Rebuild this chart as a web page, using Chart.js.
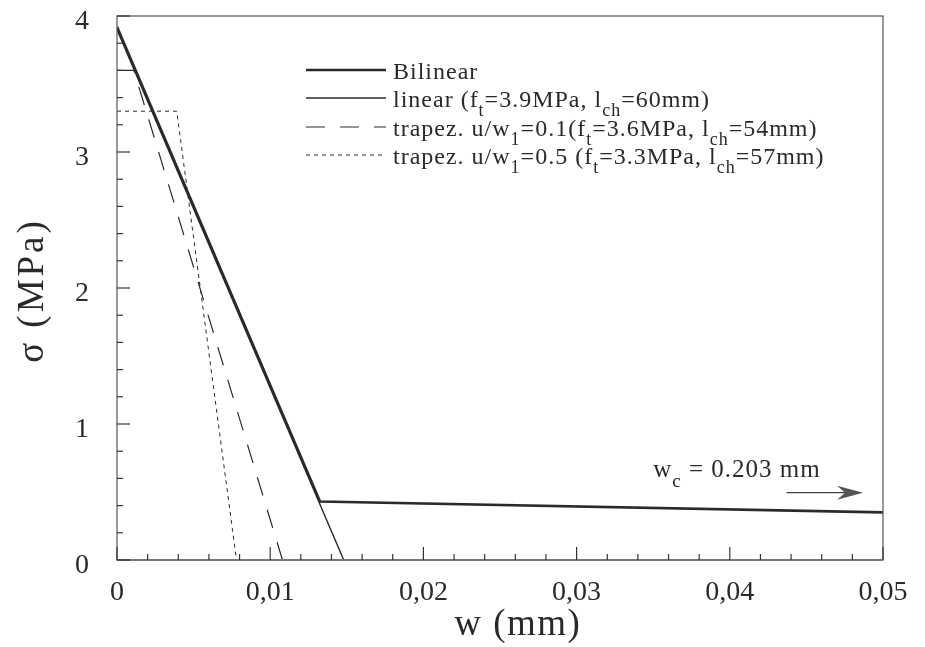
<!DOCTYPE html>
<html>
<head>
<meta charset="utf-8">
<script src="https://cdn.jsdelivr.net/npm/chart.js@4.4.1/dist/chart.umd.min.js"></script>
<style>
    html, body { margin: 0; padding: 0; background: #fff; }
    .wrap { width: 925px; height: 647px; }
</style>
</head>
<body>
<div class="wrap"><canvas class="js-chart"></canvas></div>
<script>
const SERIF = "'Liberation Serif', 'Times New Roman', serif";
const INK = '#2a2a2a';

// crack opening w (mm) / stress sigma (MPa)
const bilinearW = [0, 0.01325, 0.05];
const bilinearS = [3.92, 0.43, 0.35];
const linearW = [0, 0.0148];
const linearS = [3.9, 0];
const trapez1W = [0, 0.0011, 0.0108];
const trapez1S = [3.6, 3.6, 0];
const trapez5W = [0, 0.0039, 0.0078];
const trapez5S = [3.3, 3.3, 0];

const xMajor = [0, 0.01, 0.02, 0.03, 0.04, 0.05];
const xLabels = ['0', '0,01', '0,02', '0,03', '0,04', '0,05'];
const yMajor = [0, 1, 2, 3, 4];
const yLabels = ['0', '1', '2', '3', '4'];

const legendLabels = [
    'Bilinear',
    'linear (f_{t}=3.9MPa, l_{ch}=60mm)',
    'trapez. u/w_{1}=0.1(f_{t}=3.6MPa, l_{ch}=54mm)',
    'trapez. u/w_{1}=0.5 (f_{t}=3.3MPa, l_{ch}=57mm)',
];
const legendStyles = [
    { width: 2.6, dash: [] },
    { width: 1.4, dash: [] },
    { width: 1.2, dash: [19, 15] },
    { width: 1, dash: [4, 4] },
];
const wcLabel = 'w_{c} = 0.203 mm';

const ctx = document.querySelector('.js-chart').getContext('2d');

function toPoints(ws, ss) {
    return ws.map((w, i) => ({ x: w, y: ss[i] }));
}

function findMajor(list, v) {
    return list.findIndex(m => Math.abs(m - v) < 1e-9);
}

// text with _{...} subscripts
function drawRich(c, str, x, y, size) {
    const parts = str.split(/(_\{[^}]*\})/);
    c.save();
    c.letterSpacing = '1px';
    c.textAlign = 'left';
    c.textBaseline = 'alphabetic';
    let cx = x;
    parts.forEach(p => {
        if (!p) return;
        if (p.startsWith('_{')) {
            const t = p.slice(2, -1);
            c.font = `${Math.round(size * 0.74)}px ${SERIF}`;
            c.fillText(t, cx, y + size * 0.38);
            cx += c.measureText(t).width;
        } else {
            c.font = `${size}px ${SERIF}`;
            c.fillText(p, cx, y);
            cx += c.measureText(p).width;
        }
    });
    c.restore();
}

function drawTitle(c, str, x, y, size, spacing, angle) {
    c.save();
    c.translate(x, y);
    c.rotate(angle);
    c.font = `${size}px ${SERIF}`;
    c.letterSpacing = spacing + 'px';
    c.textAlign = 'center';
    c.textBaseline = 'middle';
    c.fillText(str, spacing / 2, 0);
    c.restore();
}

const decorations = {
    id: 'decorations',
    afterDatasetsDraw(chart) {
        const c = chart.ctx;
        const { left, right, top, bottom } = chart.chartArea;
        const xs = chart.scales.x;
        const ys = chart.scales.y;

        c.save();
        // frame
        c.strokeStyle = '#555';
        c.lineWidth = 1.2;
        c.setLineDash([]);
        c.strokeRect(left, top, right - left, bottom - top);
        c.strokeStyle = '#777';
        c.lineWidth = 2;
        c.beginPath();
        c.moveTo(left, bottom);
        c.lineTo(right, bottom);
        c.stroke();

        // inward ticks
        c.strokeStyle = '#333';
        c.lineWidth = 1.2;
        xs.ticks.forEach(t => {
            const px = xs.getPixelForValue(t.value);
            const len = findMajor(xMajor, t.value) >= 0 ? 13 : 6;
            c.beginPath();
            c.moveTo(px, bottom);
            c.lineTo(px, bottom - len);
            c.stroke();
        });
        ys.ticks.forEach(t => {
            const py = ys.getPixelForValue(t.value);
            const len = findMajor(yMajor, t.value) >= 0 ? 13 : 6;
            c.beginPath();
            c.moveTo(left, py);
            c.lineTo(left + len, py);
            c.stroke();
        });

        // tick labels
        c.fillStyle = INK;
        c.font = `28px ${SERIF}`;
        c.textBaseline = 'middle';
        c.textAlign = 'center';
        xMajor.forEach((v, i) => {
            c.fillText(xLabels[i], xs.getPixelForValue(v), bottom + 33);
        });
        c.textAlign = 'right';
        yMajor.forEach((v, i) => {
            c.fillText(yLabels[i], left - 28, ys.getPixelForValue(v) + 6);
        });

        // axis titles
        drawTitle(c, 'w (mm)', 517, 625, 37, 1.5, 0);
        drawTitle(c, '\u03c3 (MPa)', 33, 292, 37, 3, -Math.PI / 2);

        // legend
        const rowY = [70, 98, 127, 155];
        legendLabels.forEach((label, i) => {
            const st = legendStyles[i];
            c.strokeStyle = INK;
            c.lineWidth = st.width;
            c.setLineDash(st.dash);
            c.beginPath();
            c.moveTo(306, rowY[i]);
            c.lineTo(386, rowY[i]);
            c.stroke();
            c.setLineDash([]);
            c.fillStyle = INK;
            drawRich(c, label, 393, rowY[i] + 9, 24);
        });

        // w_c annotation with arrow
        c.fillStyle = INK;
        drawRich(c, wcLabel, xs.getPixelForValue(0.035), ys.getPixelForValue(0.61), 25);
        const ax0 = xs.getPixelForValue(0.0437);
        const ax1 = xs.getPixelForValue(0.0487);
        const ay = ys.getPixelForValue(0.495);
        c.strokeStyle = '#444';
        c.lineWidth = 1.3;
        c.beginPath();
        c.moveTo(ax0, ay);
        c.lineTo(ax1 - 10, ay);
        c.stroke();
        c.fillStyle = '#555';
        c.beginPath();
        c.moveTo(ax1, ay);
        c.lineTo(ax1 - 26, ay - 7);
        c.lineTo(ax1 - 18, ay);
        c.lineTo(ax1 - 26, ay + 7);
        c.closePath();
        c.fill();
        c.restore();
    },
};

new Chart(ctx, {
    type: 'scatter',
    data: {
        datasets: [
            {
                label: legendLabels[0],
                data: toPoints(bilinearW, bilinearS),
                borderColor: INK,
                borderWidth: 2.6,
            },
            {
                label: legendLabels[1],
                data: toPoints(linearW, linearS),
                borderColor: INK,
                borderWidth: 1.4,
            },
            {
                label: legendLabels[2],
                data: toPoints(trapez1W, trapez1S),
                borderColor: INK,
                borderWidth: 1.2,
                borderDash: [19, 15],
            },
            {
                label: legendLabels[3],
                data: toPoints(trapez5W, trapez5S),
                borderColor: INK,
                borderWidth: 1,
                borderDash: [4, 4],
            },
        ],
    },
    options: {
        responsive: true,
        maintainAspectRatio: false,
        animation: false,
        showLine: true,
        elements: {
            point: { radius: 0, hoverRadius: 0 },
            line: { tension: 0, fill: false },
        },
        layout: { padding: { top: 16, right: 42, left: 0, bottom: 0 } },
        plugins: {
            legend: { display: false },
            tooltip: { enabled: false },
        },
        scales: {
            x: {
                type: 'linear',
                min: 0,
                max: 0.05,
                grid: { display: false },
                border: { display: false },
                ticks: { display: false, stepSize: 0.002, autoSkip: false },
                afterFit(scale) {
                    scale.height = 87;
                },
            },
            y: {
                type: 'linear',
                min: 0,
                max: 4,
                grid: { display: false },
                border: { display: false },
                ticks: { display: false, stepSize: 0.2, autoSkip: false },
                afterFit(scale) {
                    scale.width = 117;
                },
            },
        },
    },
    plugins: [decorations],
});
</script>
</body>
</html>
